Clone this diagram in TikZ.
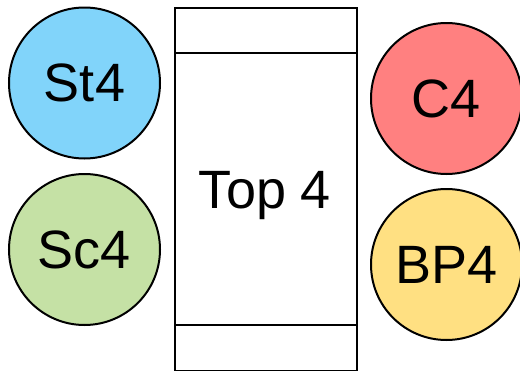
\documentclass[tikz,border=0pt]{standalone}
\usepackage{fontspec}
\setmainfont{Liberation Sans}
\usepackage{tikz}

\definecolor{stblue}{RGB}{129,212,250}
\definecolor{scgreen}{RGB}{197,225,165}
\definecolor{cred}{RGB}{255,128,128}
\definecolor{bpyellow}{RGB}{255,224,130}

\begin{document}
\begin{tikzpicture}[x=1pt, y=-1pt,
        bigtext/.style={font=\fontsize{54}{54}\selectfont, text depth=0pt, inner sep=0pt},
        team/.style={bigtext, circle, draw, line width=2pt, minimum size=151pt}]
        \useasboundingbox (0, 0) rectangle (520, 370);

        \draw[line width=2pt] (175, 8) rectangle (357, 371);
        \draw[line width=2pt] (175, 52.5) -- (357, 52.5);
        \draw[line width=2pt] (175, 325) -- (357, 325);

        \node[bigtext] (top) at (265, 190) {Top 4};

        \node[team, fill=stblue] (st) at (84.5, 83) {St4};
        \node[team, fill=scgreen] (sc) at (84.5, 249.5) {Sc4};
        \node[team, fill=cred] (c) at (446.5, 98.5) {C4};
        \node[team, fill=bpyellow] (bp) at (446.5, 264.5) {BP4};
    \end{tikzpicture}
\end{document}
